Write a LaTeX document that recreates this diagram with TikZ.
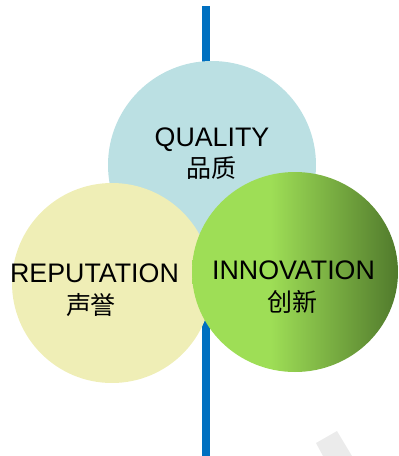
\documentclass[tikz,border=0pt]{standalone}
\usepackage{fontspec}
\setmainfont{Liberation Sans}
\newfontfamily\cjk{Noto Sans CJK SC}
\usetikzlibrary{shapes.geometric}
\definecolor{linkblue}{HTML}{0070C0}
\definecolor{qualblue}{HTML}{BBE0E3}
\definecolor{repyellow}{HTML}{EFEEB6}
\definecolor{innolight}{HTML}{9EDE56}
\definecolor{innodark}{HTML}{517A2C}
\definecolor{markgrey}{HTML}{EBEBEB}
\pgfdeclarehorizontalshading{innofade}{100bp}{color(0bp)=(innolight); color(25bp)=(innolight); color(44bp)=(innolight); color(75bp)=(innodark); color(100bp)=(innodark)}
\tikzset{
  ball/.style={circle, inner sep=0pt, minimum size=#1},
  entitle/.style={inner sep=0pt, anchor=base, font=\fontsize{26.8}{28}\selectfont},
  zhtitle/.style={inner sep=0pt, font=\cjk\fontsize{25}{27}\selectfont}
}
\begin{document}
\begin{tikzpicture}[x=1pt,y=-1pt]
	\useasboundingbox (0,0) rectangle (399,456);
	% axis line behind the circles
	\coordinate (axtop) at (206,6);
	\coordinate (axbot) at (206,456);
	\draw [linkblue, line width=8pt] (axtop) -- (axbot);
	% watermark corner
	\fill [markgrey] (316,443) -- (337,431) -- (352,456) -- (323,456) -- cycle;
	% the three circles
	\node [ball=208pt, fill=qualblue] (qual) at (212,165) {};
	\node [ball=200pt, fill=repyellow] (rep) at (112,283) {};
	\node [ellipse, inner sep=0pt, minimum width=206pt, minimum height=200pt, shading=innofade] (inno) at (295,272) {};
	% labels
	\node [entitle] (qualen) at (212,146.5) {QUALITY};
	\node [zhtitle] (qualzh) at (211.5,168) {品质};
	\node [entitle] (repen) at (94.5,282.5) {REPUTATION};
	\node [zhtitle] (repzh) at (91,305) {声誉};
	\node [entitle] (innoen) at (293.5,279.5) {INNOVATION};
	\node [zhtitle] (innozh) at (292.5,302) {创新};
\end{tikzpicture}
\end{document}
